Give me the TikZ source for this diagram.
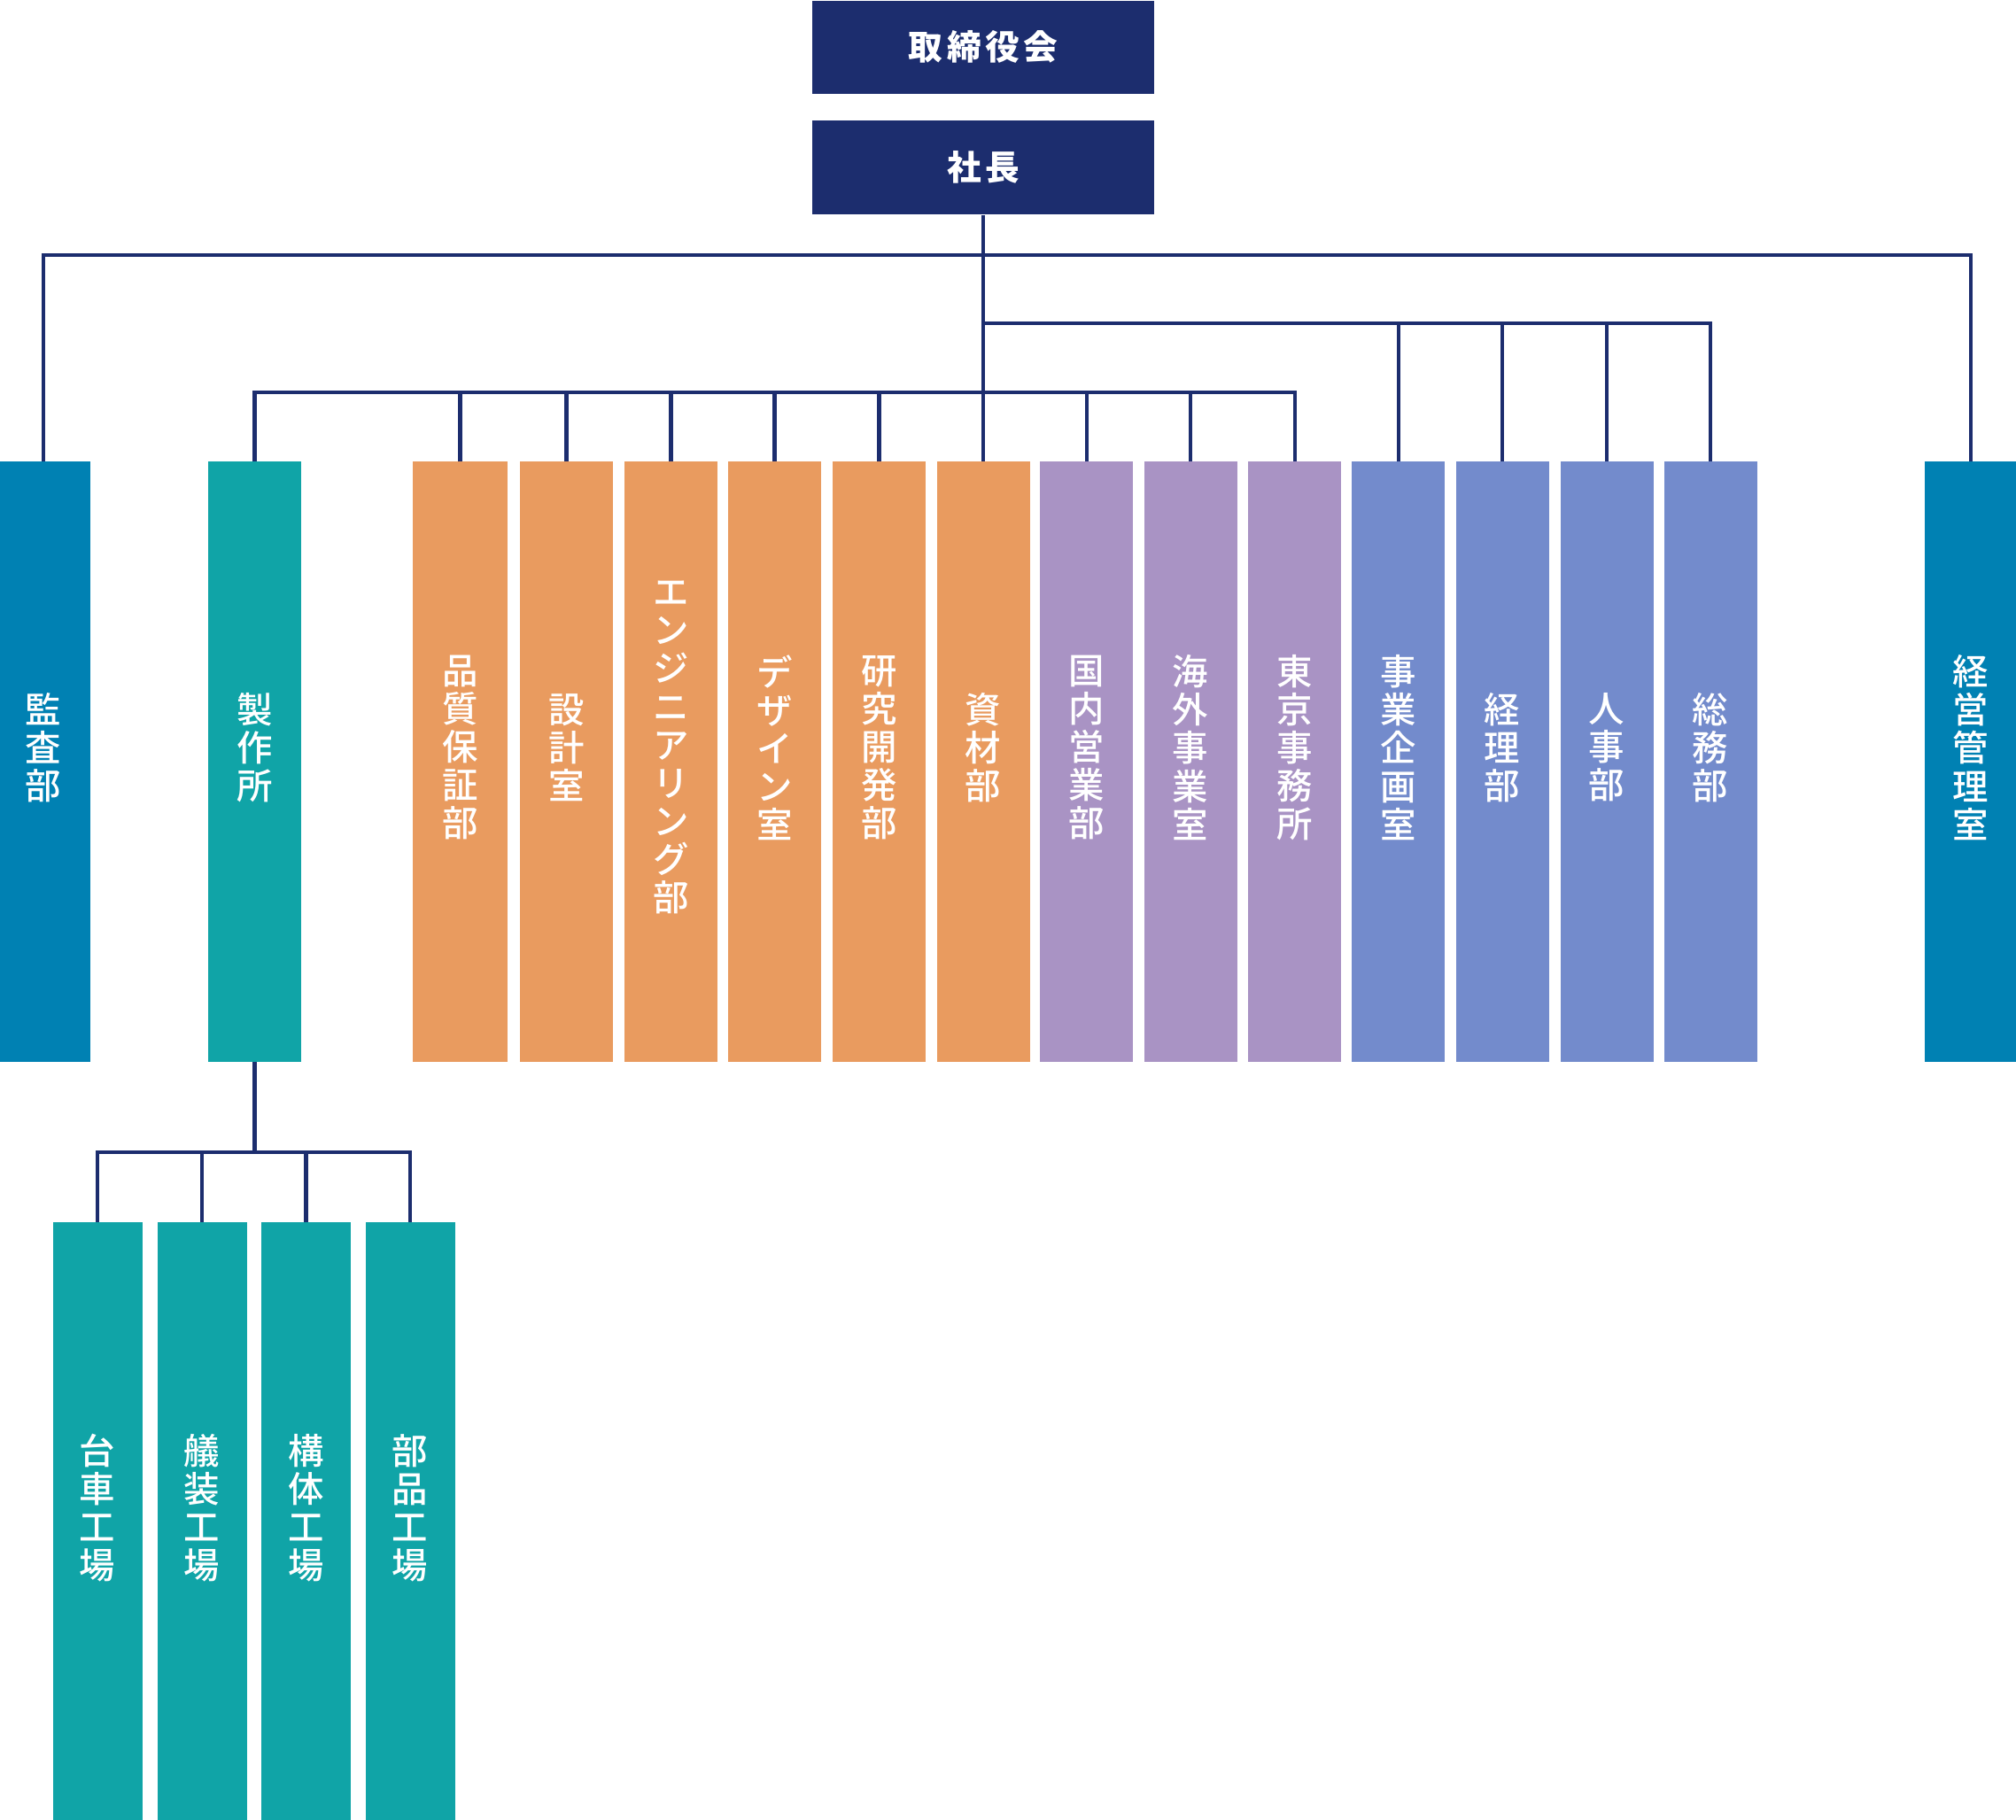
\documentclass[tikz,border=0pt]{standalone}
\usepackage{fontspec}
\newfontfamily\jpfont{Noto Sans CJK JP}[BoldFont={Noto Sans CJK JP Medium}]
\newfontfamily\jpheavy{Noto Sans CJK JP}
\usetikzlibrary{positioning}
\definecolor{navy}{HTML}{1C2D6E}
\definecolor{deptcyan}{HTML}{0081B3}
\definecolor{deptteal}{HTML}{10A4A7}
\definecolor{deptorange}{HTML}{E99B5F}
\definecolor{deptpurple}{HTML}{A993C4}
\definecolor{deptblue}{HTML}{738BCC}
\tikzset{
    head/.style = {rectangle, fill=navy, text=white, minimum width=3.86cm, minimum height=1.05cm, inner sep=0pt, font=\jpheavy\bfseries\fontsize{11}{12}\selectfont\addfontfeature{LetterSpace=12}},
    unit/.style = {rectangle, anchor=north, minimum width=1.05cm, minimum height=6.78cm, inner sep=0pt, outer sep=0pt},
    unitc/.style = {unit, fill=deptcyan},
    unitt/.style = {unit, fill=deptteal},
    unito/.style = {unit, fill=deptorange},
    unitp/.style = {unit, fill=deptpurple},
    unitb/.style = {unit, fill=deptblue},
    unitf/.style = {unit, fill=deptteal, minimum width=1.01cm},
    deptext/.style = {text=white, align=center, inner sep=0pt, yshift=0.16cm, font=\jpfont\bfseries\fontsize{11.5}{12.25}\selectfont},
    link/.style = {draw=navy, line width=1.15pt}
}
\begin{document}
\begin{tikzpicture}
  \useasboundingbox (0,0) rectangle (22.76,-20.54);

  \node[head, anchor=north] at (11.10,0) (board) {取締役会};
  \node[head, below=0.29cm of board, minimum height=1.06cm] (pres) {社長};

\node[unitc, label={[deptext]center:監\\査\\部}] at (0.49,-5.21) (audit) {};
\node[unitt, label={[deptext]center:製\\作\\所}] at (2.875,-5.21) (works) {};
\node[unito, minimum width=1.07cm, label={[deptext]center:品\\質\\保\\証\\部}] at (5.195,-5.21) (qa) {};
\node[unito, label={[deptext]center:設\\計\\室}] at (6.395,-5.21) (plan) {};
\node[unito, label={[deptext]center:エ\\ン\\ジ\\ニ\\ア\\リ\\ン\\グ\\部}] at (7.575,-5.21) (eng) {};
\node[unito, label={[deptext]center:デ\\ザ\\イ\\ン\\室}] at (8.745,-5.21) (dsgn) {};
\node[unito, label={[deptext]center:研\\究\\開\\発\\部}] at (9.925,-5.21) (rnd) {};
\node[unito, label={[deptext]center:資\\材\\部}] at (11.10,-5.21) (mat) {};
\node[unitp, label={[deptext]center:国\\内\\営\\業\\部}] at (12.265,-5.21) (dom) {};
\node[unitp, label={[deptext]center:海\\外\\事\\業\\室}] at (13.44,-5.21) (ovs) {};
\node[unitp, label={[deptext]center:東\\京\\事\\務\\所}] at (14.615,-5.21) (tky) {};
\node[unitb, label={[deptext]center:事\\業\\企\\画\\室}] at (15.785,-5.21) (biz) {};
\node[unitb, label={[deptext]center:経\\理\\部}] at (16.96,-5.21) (acct) {};
\node[unitb, label={[deptext]center:人\\事\\部}] at (18.14,-5.21) (hr) {};
\node[unitb, label={[deptext]center:総\\務\\部}] at (19.31,-5.21) (gen) {};
\node[unitc, label={[deptext]center:経\\営\\管\\理\\室}] at (22.25,-5.21) (mgmt) {};

\node[unitf, label={[deptext]center:台\\車\\工\\場}] at (1.10,-13.795) (fac1) {};
\node[unitf, label={[deptext]center:艤\\装\\工\\場}] at (2.28,-13.795) (fac2) {};
\node[unitf, label={[deptext]center:構\\体\\工\\場}] at (3.455,-13.795) (fac3) {};
\node[unitf, label={[deptext]center:部\\品\\工\\場}] at (4.63,-13.795) (fac4) {};

  % bus lines
  \coordinate (bus1) at (11.10,-2.88);
  \coordinate (bus2) at (11.10,-3.65);
  \coordinate (bus3) at (11.10,-4.43);
  \coordinate (bus4) at (2.875,-13.01);

  \draw[link] (pres.south) -- (mat.north);
  \draw[link] (audit.north) |- (bus1) -| (mgmt.north);

  \draw[link] (bus2) -| (gen.north);
  \draw[link] (biz.north) -- (biz.north |- bus2);
  \draw[link] (acct.north) -- (acct.north |- bus2);
  \draw[link] (hr.north) -- (hr.north |- bus2);

  \draw[link] (works.north) |- (bus3) -| (tky.north);
  \draw[link] (qa.north) -- (qa.north |- bus3);
  \draw[link] (plan.north) -- (plan.north |- bus3);
  \draw[link] (eng.north) -- (eng.north |- bus3);
  \draw[link] (dsgn.north) -- (dsgn.north |- bus3);
  \draw[link] (rnd.north) -- (rnd.north |- bus3);
  \draw[link] (dom.north) -- (dom.north |- bus3);
  \draw[link] (ovs.north) -- (ovs.north |- bus3);

  \draw[link] (works.south) -- (bus4);
  \draw[link] (fac1.north) |- (bus4) -| (fac4.north);
  \draw[link] (fac2.north) -- (fac2.north |- bus4);
  \draw[link] (fac3.north) -- (fac3.north |- bus4);

 \end{tikzpicture}
\end{document}
